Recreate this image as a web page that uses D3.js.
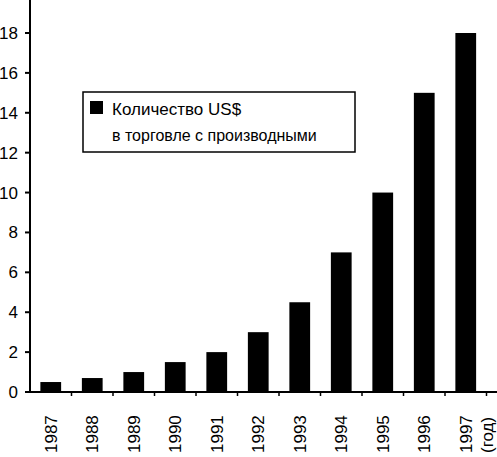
<!DOCTYPE html>
<html><head><meta charset="utf-8">
<script src="https://cdn.jsdelivr.net/npm/d3@7"></script>
<style>body{margin:0;background:#fff}</style>
</head><body>
<svg width="497" height="457"></svg>
<script>
// данные
const years = ['1987','1988','1989','1990','1991','1992','1993','1994','1995','1996','1997'];
const values = [0.5, 0.7, 1.0, 1.5, 2.0, 3.0, 4.5, 7.0, 10.0, 15.0, 18.0];
const yTicks = [0, 2, 4, 6, 8, 10, 12, 14, 16, 18];

const svg = d3.select('svg');
const font = 'Liberation Sans, Arial, sans-serif';
const x0 = 30, baseY = 392;

const x = d3.scaleBand().domain(years).range([x0, x0 + 11 * 41.5])
   .paddingInner(0.5).paddingOuter(0.25);
const y = d3.scaleLinear().domain([0, 18]).range([baseY, 33]);
const step = x.step();

// bars
svg.selectAll('rect.bar').data(years).enter().append('rect')
   .attr('x', d => x(d)).attr('width', x.bandwidth())
   .attr('y', (d, i) => y(values[i]))
   .attr('height', (d, i) => baseY - y(values[i]))
   .attr('fill', '#000');

// y axis
svg.append('line').attr('x1', x0).attr('x2', x0).attr('y1', 0).attr('y2', baseY)
   .attr('stroke', '#000').attr('stroke-width', 2);
yTicks.forEach(t => {
   svg.append('line').attr('x1', x0 - 5).attr('x2', x0).attr('y1', y(t)).attr('y2', y(t))
      .attr('stroke', '#000').attr('stroke-width', 2);
   svg.append('text').attr('x', 18).attr('y', y(t) + 6).attr('text-anchor', 'end')
      .attr('font-family', font).attr('font-size', 17).text(t);
});

// x axis
svg.append('line').attr('x1', x0).attr('x2', 497).attr('y1', baseY).attr('y2', baseY)
   .attr('stroke', '#000').attr('stroke-width', 2);
years.forEach(d => {
   const cx = x(d) + x.bandwidth() / 2;
   const tx = cx + step / 2;
   svg.append('line').attr('x1', tx).attr('x2', tx).attr('y1', baseY).attr('y2', baseY + 4)
      .attr('stroke', '#000').attr('stroke-width', 1.5);
   svg.append('text').attr('transform', `translate(${cx + 6},453) rotate(-90)`)
      .attr('font-family', font).attr('font-size', 17).text(d);
});
svg.append('text').attr('transform', `translate(493,453) rotate(-90)`)
   .attr('font-family', font).attr('font-size', 17).text('(год)');

// legend
svg.append('rect').attr('x', 83).attr('y', 92).attr('width', 272).attr('height', 60)
   .attr('fill', '#fff').attr('stroke', '#000').attr('stroke-width', 1.5);
svg.append('rect').attr('x', 90).attr('y', 101).attr('width', 13).attr('height', 13).attr('fill', '#000');
svg.append('text').attr('x', 112).attr('y', 115).attr('font-family', font).attr('font-size', 17)
   .text('Количество US$');
svg.append('text').attr('x', 112).attr('y', 141).attr('font-family', font).attr('font-size', 16)
   .text('в торговле с производными');
</script>
</body></html>
